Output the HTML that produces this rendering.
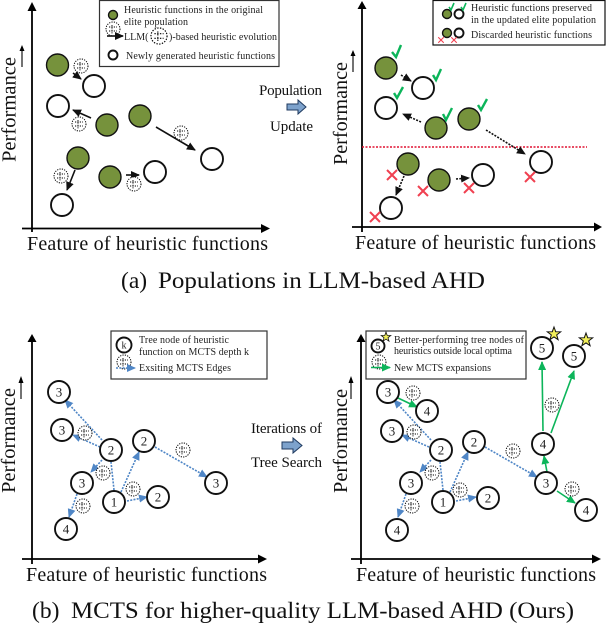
<!DOCTYPE html>
<html><head><meta charset="utf-8"><style>
html,body{margin:0;padding:0;background:#fff}
svg{display:block}
text{font-family:"Liberation Serif",serif;fill:#111}
.ax{font-size:20px}
.cap{font-size:23.500px}
.mid{font-size:15px}
.lg{font-size:10px;fill:#222}
.n{font-size:13px;text-anchor:middle;fill:#222}
.g{fill:#76923c;stroke:#111;stroke-width:1.400}
.w{fill:#fff;stroke:#111;stroke-width:1.900}
.node{fill:#fff;stroke:#111;stroke-width:1.900}
.axis{stroke:#000;stroke-width:1.800;fill:none}
.thin{stroke:#000;stroke-width:1.100;fill:none}
.blk{stroke:#111;stroke-width:1.600;fill:none;marker-end:url(#mb)}
.dsh{stroke:#111;stroke-width:1.600;stroke-dasharray:2 1.300;fill:none;marker-end:url(#mb)}
.blu{stroke:#4f86c6;stroke-width:1.600;stroke-dasharray:2 1.300;fill:none;marker-end:url(#mu)}
.bln{stroke:#4f86c6;stroke-width:1.600;stroke-dasharray:2 1.300;fill:none}
.grn{stroke:#0cb55a;stroke-width:1.600;fill:none;marker-end:url(#mg)}
.chk{stroke:#0cb55a;stroke-width:2.400;fill:none}
.chs{stroke:#0cb55a;stroke-width:1.600;fill:none}
.x{stroke:#f04050;stroke-width:2;fill:none}
.box{fill:#fff;stroke:#333;stroke-width:1.200}
.bl circle{fill:#fff;stroke:#000;stroke-width:1;stroke-dasharray:1.200 1.200}
.bl path{fill:none;stroke:#000;stroke-width:.9;stroke-dasharray:1.200 1.200}
</style></head><body>
<svg width="606" height="626" viewBox="0 0 606 626" xmlns="http://www.w3.org/2000/svg">
<defs>
<marker id="mb" markerWidth="10" markerHeight="8" refX="8" refY="4" orient="auto" markerUnits="userSpaceOnUse"><path d="M0,0 L9,4 L0,8 Z" fill="#111"/></marker>
<marker id="mu" markerWidth="10" markerHeight="8" refX="8" refY="4" orient="auto" markerUnits="userSpaceOnUse"><path d="M0,0 L9,4 L0,8 Z" fill="#4f86c6"/></marker>
<marker id="mg" markerWidth="10" markerHeight="8" refX="8" refY="4" orient="auto" markerUnits="userSpaceOnUse"><path d="M0,0 L9,4 L0,8 Z" fill="#0cb55a"/></marker>
<g id="b" class="bl"><circle r="7" cx="0" cy="0"/><path d="M-4,-2 H4 M-4,2 H4 M-1,-4 V5"/></g>
<g id="xm"><path class="x" d="M-5,-5 L5,5 M5,-5 L-5,5"/></g>
</defs>

<!-- Top-left axes -->
<path class="axis" d="M32,232 V10 M22,228.500 H262"/>
<path d="M27.500,11 L32,2 L36.500,11 Z M261,224 L270,228.500 L261,233 Z" fill="#000"/>
<text class="ax" transform="translate(15.500,162) rotate(-90)" textLength="105" lengthAdjust="spacingAndGlyphs">Performance</text>
<path class="thin" d="M22,67 V50"/><path d="M19.500,51 L22,45 L24.500,51 Z" fill="#000"/>
<text class="ax" x="27" y="250" textLength="241">Feature of heuristic functions</text>

<rect class="box" x="99.500" y="0.500" width="179.500" height="66"/>
<circle class="g" cx="113" cy="15" r="4.500"/>
<use href="#b" x="113" y="29"/>
<path class="blk" d="M107,36 H123"/>
<use href="#b" transform="translate(159,36) scale(1.150)"/>
<circle class="w" cx="113" cy="55" r="4.500"/>
<text class="lg" x="124" y="13" textLength="139">Heuristic functions in the original</text>
<text class="lg" x="124" y="25" textLength="64">elite population</text>
<text class="lg" x="124" y="40">LLM(</text>
<text class="lg" x="169" y="40" textLength="108">)-based heuristic evolution</text>
<text class="lg" x="126" y="59" textLength="149">Newly generated heuristic functions</text>

<path class="blk" d="M73,73 L81,79"/>
<path class="blk" d="M91,118 L73,110"/>
<path class="blk" d="M156,127 L195,150"/>
<path class="blk" d="M75,170 L67,190"/>
<path class="blk" d="M126,175 L139,175"/>
<circle class="g" cx="57.500" cy="65" r="11"/><circle class="g" cx="107" cy="125" r="11"/><circle class="g" cx="140" cy="116" r="11"/><circle class="g" cx="78" cy="158" r="11"/><circle class="g" cx="110" cy="177" r="11"/>
<circle class="w" cx="94" cy="86" r="11"/><circle class="w" cx="58" cy="106" r="11"/><circle class="w" cx="212" cy="159" r="11"/><circle class="w" cx="155" cy="172" r="11"/><circle class="w" cx="62" cy="205" r="11"/>
<use href="#b" x="81" y="66"/><use href="#b" x="79" y="124"/><use href="#b" x="181" y="133"/><use href="#b" x="61" y="176"/><use href="#b" x="134" y="184"/>

<!-- Middle top -->
<text class="mid" x="259" y="95" textLength="63">Population</text>
<path d="M287,104 H298 V100 L306,107 L298,114 V110 H287 Z" fill="#7da2cc" stroke="#1f3a5f" stroke-width="1"/>
<text class="mid" x="270" y="131" textLength="43">Update</text>

<!-- Top-right axes -->
<path class="axis" d="M362,232 V8 M352,227 H596"/>
<path d="M357.500,9 L362,1 L366.500,9 Z M594,222.500 L602,227 L594,231.500 Z" fill="#000"/>
<text class="ax" transform="translate(347,165) rotate(-90)" textLength="103" lengthAdjust="spacingAndGlyphs">Performance</text>
<path class="thin" d="M353,72 V55"/><path d="M350.500,56 L353,50 L355.500,56 Z" fill="#000"/>
<text class="ax" x="355" y="249" textLength="241">Feature of heuristic functions</text>

<rect x="433" y="0.500" width="172" height="44.500" fill="#fff" stroke="#111" stroke-width="1.200"/>
<circle class="g" cx="447" cy="14" r="4.500"/><circle class="w" cx="459" cy="14" r="4.500"/>
<circle class="g" cx="447" cy="33" r="4.500"/><circle class="w" cx="459" cy="33" r="4.500"/>
<path class="chs" d="M449,7 L451,10 L454,3 M461,7 L463,10 L466,3"/>
<use href="#xm" transform="translate(441,40) scale(.55)"/><use href="#xm" transform="translate(454,40) scale(.55)"/>
<text class="lg" x="471" y="11" textLength="121">Heuristic functions preserved</text>
<text class="lg" x="471" y="23" textLength="125">in the updated elite population</text>
<text class="lg" x="471" y="38" textLength="121">Discarded heuristic functions</text>

<path d="M362,147 H587" stroke="#e01030" stroke-width="1.500" stroke-dasharray="2 1.500"/>
<path class="dsh" d="M401,75 L411,81"/>
<path class="dsh" d="M421,122 L403,114"/>
<path class="dsh" d="M486,130 L525,154"/>
<path class="dsh" d="M404,176 L396,195"/>
<path class="dsh" d="M456,179 L469,178"/>
<circle class="g" cx="386" cy="68" r="11"/><circle class="g" cx="436" cy="128" r="11"/><circle class="g" cx="469" cy="119" r="11"/><circle class="g" cx="408" cy="164" r="11"/><circle class="g" cx="439" cy="180" r="11"/>
<circle class="w" cx="423" cy="88" r="11"/><circle class="w" cx="386" cy="108" r="11"/><circle class="w" cx="541" cy="162" r="11"/><circle class="w" cx="483" cy="175" r="11"/><circle class="w" cx="391" cy="208" r="11"/>
<path class="chk" d="M392,52 L396,57 L401,45 M433,75 L436,80 L441,69 M394,93 L397,98 L403,87 M443,114 L446,120 L452,108 M478,105 L481,110 L487,99"/>
<use href="#xm" x="392" y="175"/><use href="#xm" x="423" y="191"/><use href="#xm" x="469" y="188"/><use href="#xm" x="530" y="177"/><use href="#xm" x="375" y="217"/>

<text class="cap" x="121" y="288">(a)</text>
<text class="cap" x="158" y="288" textLength="327" lengthAdjust="spacingAndGlyphs">Populations in LLM-based AHD</text>

<!-- Bottom-left axes -->
<path class="axis" d="M32,564 V340 M22,559 H260"/>
<path d="M27.500,342 L32,334 L36.500,342 Z M258,554.500 L267,559 L258,563.500 Z" fill="#000"/>
<text class="ax" transform="translate(15,493) rotate(-90)" textLength="105" lengthAdjust="spacingAndGlyphs">Performance</text>
<path class="thin" d="M21,399 V382"/><path d="M18.500,383 L21,376 L23.500,383 Z" fill="#000"/>
<text class="ax" x="26" y="581" textLength="241">Feature of heuristic functions</text>

<rect class="box" x="111" y="331" width="156" height="48"/>
<circle class="w" cx="124" cy="345" r="7.500" stroke-width="1.400"/><text class="lg" x="124" y="348.500" text-anchor="middle">k</text>
<use href="#b" x="124" y="362"/><path class="blu" d="M116,368 H135"/>
<text class="lg" x="139" y="343" textLength="90">Tree node of heuristic</text>
<text class="lg" x="139" y="355" textLength="110">function on MCTS depth k</text>
<text class="lg" x="139" y="371" textLength="92">Exsiting MCTS Edges</text>

<path class="blu" d="M102,440 L65,400"/><path class="blu" d="M100,447 L73,435"/><path class="blu" d="M102,460 L91,472"/><path class="bln" d="M114,490 L111,462"/><path class="blu" d="M121,492 L139,452"/><path class="blu" d="M155,447 L207,477"/><path class="blu" d="M127,501 L147,497"/><path class="blu" d="M77,494 L69,517"/>
<g>
<circle class="node" cx="59" cy="392" r="11"/><text class="n" x="59" y="396.500">3</text>
<circle class="node" cx="62" cy="430" r="11"/><text class="n" x="62" y="434.500">3</text>
<circle class="node" cx="111" cy="450" r="11"/><text class="n" x="111" y="454.500">2</text>
<circle class="node" cx="144" cy="441" r="11"/><text class="n" x="144" y="445.500">2</text>
<circle class="node" cx="82" cy="483" r="11"/><text class="n" x="82" y="487.500">3</text>
<circle class="node" cx="114" cy="502" r="11"/><text class="n" x="114" y="506.500">1</text>
<circle class="node" cx="158" cy="497" r="11"/><text class="n" x="158" y="501.500">2</text>
<circle class="node" cx="216" cy="483" r="11"/><text class="n" x="216" y="487.500">3</text>
<circle class="node" cx="66" cy="529" r="11"/><text class="n" x="66" y="533.500">4</text>
</g>
<use href="#b" x="85" y="433"/><use href="#b" x="183" y="450"/><use href="#b" x="103" y="473"/><use href="#b" x="133" y="489"/><use href="#b" x="83" y="506"/>

<!-- Middle bottom -->
<text class="mid" x="251" y="433" textLength="71">Iterations of</text>
<path d="M282,442 H293 V438 L302,445.500 L293,453 V449 H282 Z" fill="#7da2cc" stroke="#1f3a5f" stroke-width="1"/>
<text class="mid" x="251" y="467" textLength="71">Tree Search</text>

<!-- Bottom-right axes -->
<path class="axis" d="M361,564 V340 M351,559 H594"/>
<path d="M356.500,342 L361,334 L365.500,342 Z M592,554.500 L601,559 L592,563.500 Z" fill="#000"/>
<text class="ax" transform="translate(347,493) rotate(-90)" textLength="104" lengthAdjust="spacingAndGlyphs">Performance</text>
<path class="thin" d="M351,399 V382"/><path d="M348.500,383 L351,376 L353.500,383 Z" fill="#000"/>
<text class="ax" x="356" y="581" textLength="240">Feature of heuristic functions</text>

<rect class="box" x="366" y="331" width="160" height="48"/>
<circle class="w" cx="378" cy="346" r="6.500" stroke-width="1.400"/><text class="lg" x="378" y="349.500" text-anchor="middle">5</text>
<polygon points="386,332 387.200,335.400 390.800,335.500 388,337.700 389,341.200 386,339.100 383,341.200 384,337.700 381.200,335.500 384.800,335.400" fill="#f2ef5a" stroke="#111" stroke-width=".8"/>
<use href="#b" x="379" y="362"/><path class="grn" d="M371,367.500 H390"/>
<text class="lg" x="394" y="343" textLength="130">Better-performing tree nodes of</text>
<text class="lg" x="394" y="354" textLength="118">heuristics outside local optima</text>
<text class="lg" x="394" y="371" textLength="97">New MCTS expansions</text>

<path class="blu" d="M431,440 L394,400"/><path class="blu" d="M429,447 L402,435"/><path class="blu" d="M431,460 L420,472"/><path class="bln" d="M443,490 L440,462"/><path class="blu" d="M450,492 L468,452"/><path class="blu" d="M485,447 L537,477"/><path class="blu" d="M456,501 L476,497"/><path class="blu" d="M406,494 L398,517"/>
<path class="grn" d="M398,398 L417,407"/><path class="grn" d="M557,491 L575,503"/><path class="grn" d="M547,472 L544,456"/><path class="grn" d="M543,431 L542,362"/><path class="grn" d="M551,433 L574,371"/>
<g>
<circle class="node" cx="388" cy="392" r="11"/><text class="n" x="388" y="396.500">3</text>
<circle class="node" cx="427" cy="411" r="11"/><text class="n" x="427" y="415.500">4</text>
<circle class="node" cx="392" cy="431" r="11"/><text class="n" x="392" y="435.500">3</text>
<circle class="node" cx="441" cy="450" r="11"/><text class="n" x="441" y="454.500">2</text>
<circle class="node" cx="474" cy="442" r="11"/><text class="n" x="474" y="446.500">2</text>
<circle class="node" cx="543" cy="444" r="11"/><text class="n" x="543" y="448.500">4</text>
<circle class="node" cx="542" cy="348" r="11"/><text class="n" x="542" y="352.500">5</text>
<circle class="node" cx="574" cy="356" r="11"/><text class="n" x="574" y="360.500">5</text>
<circle class="node" cx="411" cy="483" r="11"/><text class="n" x="411" y="487.500">3</text>
<circle class="node" cx="443" cy="502" r="11"/><text class="n" x="443" y="506.500">1</text>
<circle class="node" cx="488" cy="498" r="11"/><text class="n" x="488" y="502.500">2</text>
<circle class="node" cx="546" cy="483" r="11"/><text class="n" x="546" y="487.500">3</text>
<circle class="node" cx="586" cy="510" r="11"/><text class="n" x="586" y="514.500">4</text>
<circle class="node" cx="397" cy="530" r="11"/><text class="n" x="397" y="534.500">4</text>
</g>
<polygon points="554,327 555.700,331.700 560.700,331.800 556.700,334.900 558.100,339.700 554,336.900 549.900,339.700 551.300,334.900 547.300,331.800 552.300,331.700" fill="#f2ef5a" stroke="#111" stroke-width="1"/>
<polygon points="586,333 587.700,337.700 592.700,337.800 588.700,340.900 590.100,345.700 586,342.900 581.900,345.700 583.300,340.900 579.300,337.800 584.300,337.700" fill="#f2ef5a" stroke="#111" stroke-width="1"/>
<use href="#b" x="413" y="393"/><use href="#b" x="414" y="432"/><use href="#b" x="513" y="451"/><use href="#b" x="552" y="405"/><use href="#b" x="432" y="473"/><use href="#b" x="460" y="490"/><use href="#b" x="412" y="506"/><use href="#b" x="572" y="489"/>

<text class="cap" x="32" y="618">(b)</text>
<text class="cap" x="71" y="618" textLength="503" lengthAdjust="spacingAndGlyphs">MCTS for higher-quality LLM-based AHD (Ours)</text>
</svg>
</body></html>
